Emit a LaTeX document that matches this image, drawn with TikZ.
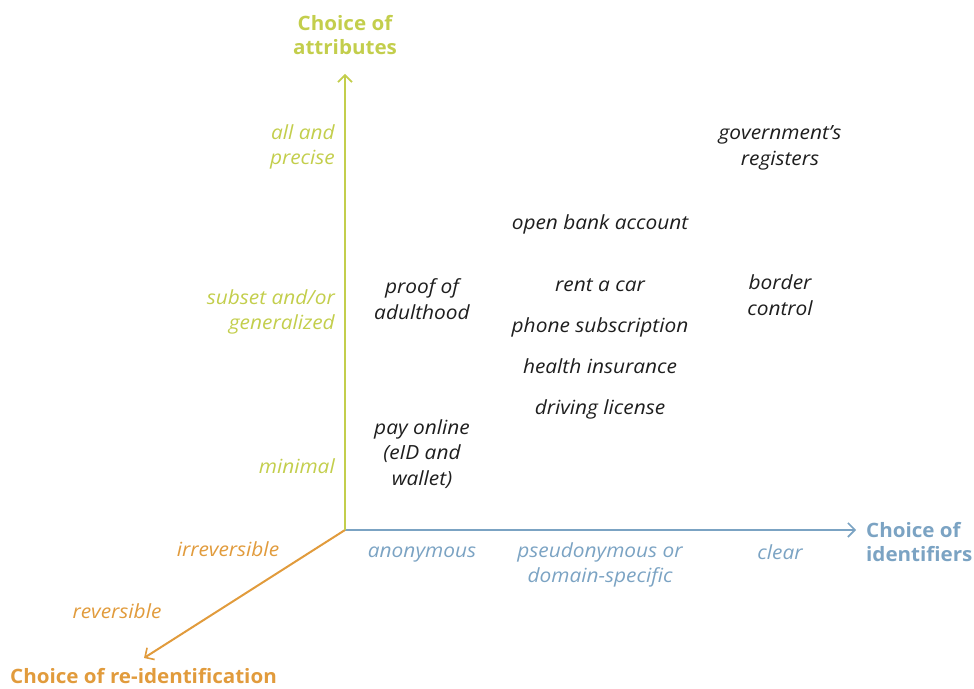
\documentclass[tikz,border=0pt]{standalone}
\usepackage{fontspec}
\setmainfont[FakeStretch=1.07]{Open Sans}
\newfontfamily\titlefont[FakeStretch=1.04]{Open Sans}
\usetikzlibrary{arrows.meta}
\definecolor{attrgreen}{HTML}{C3CE4C}
\definecolor{idblue}{HTML}{7BA3C3}
\definecolor{reorange}{HTML}{E19B3C}
\definecolor{txt}{HTML}{1E1E1E}
\tikzset{
  x=1pt, y=1pt,
  axis/.style={line width=2pt, -{Straight Barb[length=7pt,width=14pt,line width=1.6pt]}},
  item/.style={text=txt, font=\fontsize{19.5}{25.5}\selectfont\itshape, align=center, inner sep=0pt},
  tick/.style={font=\fontsize{19.5}{25.5}\selectfont\itshape, inner sep=0pt},
  title/.style={font=\titlefont\fontsize{19.8}{24.5}\selectfont\bfseries, inner sep=0pt},
}
\begin{document}
\begin{tikzpicture}
\useasboundingbox (0,0) rectangle (974,688);
% axes
\coordinate (o) at (345,158);
\coordinate (ytip) at (345,614);
\coordinate (xtip) at (856,158);
\coordinate (ztip) at (144,30);
\draw[axis, idblue] (o) -- (xtip);
\draw[axis, reorange] (o) -- (ztip);
\draw[axis, attrgreen] (o) -- (ytip);
% axis titles
\node[title, text=attrgreen, align=center] (ta) at (345,653) {Choice of\\attributes};
\node[title, text=idblue, align=left, anchor=west] (ti) at (866,146) {Choice of\\identifiers};
\node[title, text=reorange, anchor=west] (tr) at (10,12) {Choice of re-identification};
% attribute ticks
\node[tick, text=attrgreen, align=right, anchor=east] (a1) at (335,541) {all and\\precise};
\node[tick, text=attrgreen, align=right, anchor=east] (a2) at (335,376) {subset and/or\\generalized};
\node[tick, text=attrgreen, anchor=east] (a3) at (335,222) {minimal};
% identifier ticks
\node[tick, text=idblue] (i1) at (422,133) {anonymous};
\node[tick, text=idblue, align=center] (i2) at (600,123) {pseudonymous or\\domain-specific};
\node[tick, text=idblue] (i3) at (780,136) {clear};
% re-identification ticks
\node[tick, text=reorange] (r1) at (228,139) {irreversible};
\node[tick, text=reorange] (r2) at (117,77) {reversible};
% items
\node[item] (gov) at (780,540) {government’s\\registers};
\node[item] (bank) at (600,464) {open bank account};
\node[item] (adult) at (422,389) {proof of\\adulthood};
\node[item] (car) at (600,403) {rent a car};
\node[item] (border) at (780,393) {border\\control};
\node[item] (phone) at (600,361) {phone subscription};
\node[item] (health) at (600,322) {health insurance};
\node[item] (drive) at (600,279) {driving license};
\node[item] (pay) at (422,234) {pay online\\(eID and\\wallet)};
\end{tikzpicture}
\end{document}
